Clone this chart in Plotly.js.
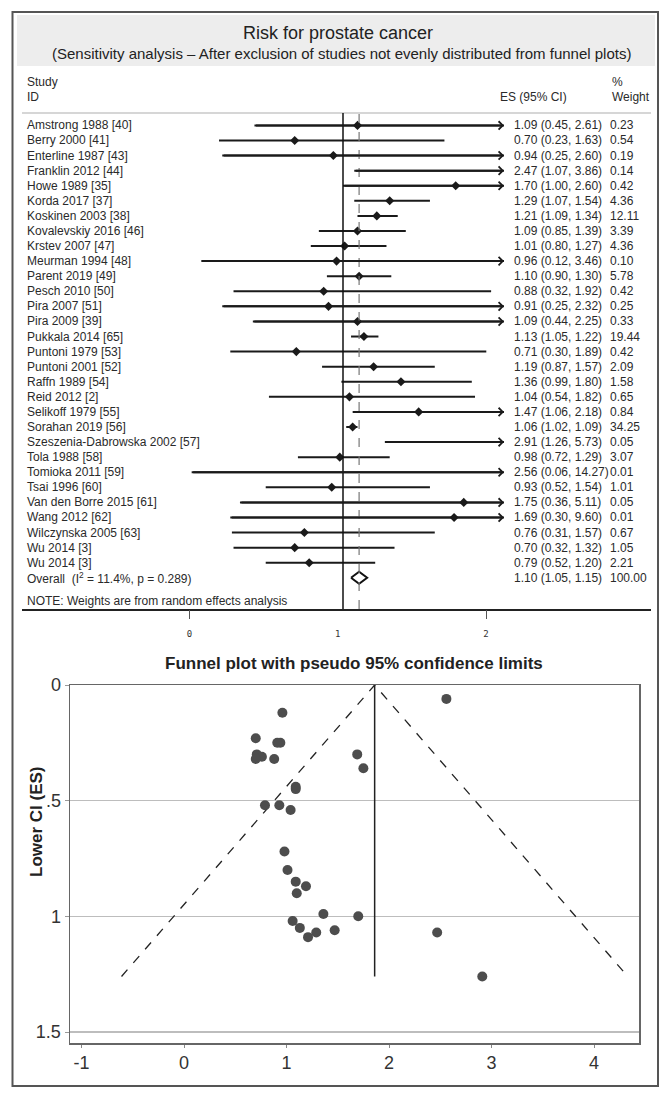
<!DOCTYPE html>
<html>
<head>
<meta charset="utf-8">
<script src="https://cdn.plot.ly/plotly-3.0.1.min.js"></script>
<style>html,body{margin:0;padding:0;background:#fff;}#chart{width:671px;height:1100px;}</style>
</head>
<body>
<div id="chart"></div>
<script>
// ---------------- DATA ----------------
const studies = ["Amstrong 1988 [40]", "Berry 2000 [41]", "Enterline 1987 [43]", "Franklin 2012 [44]",
  "Howe 1989 [35]", "Korda 2017 [37]", "Koskinen 2003 [38]", "Kovalevskiy 2016 [46]", "Krstev 2007 [47]",
  "Meurman 1994 [48]", "Parent 2019 [49]", "Pesch 2010 [50]", "Pira 2007 [51]", "Pira 2009 [39]",
  "Pukkala 2014 [65]", "Puntoni 1979 [53]", "Puntoni 2001 [52]", "Raffn 1989 [54]", "Reid 2012 [2]",
  "Selikoff 1979 [55]", "Sorahan 2019 [56]", "Szeszenia-Dabrowska 2002 [57]", "Tola 1988 [58]",
  "Tomioka 2011 [59]", "Tsai 1996 [60]", "Van den Borre 2015 [61]", "Wang 2012 [62]",
  "Wilczynska 2005 [63]", "Wu 2014 [3]", "Wu 2014 [3]"];
const es    = [1.09,0.70,0.94,2.47,1.70,1.29,1.21,1.09,1.01,0.96,1.10,0.88,0.91,1.09,1.13,0.71,1.19,1.36,1.04,1.47,1.06,2.91,0.98,2.56,0.93,1.75,1.69,0.76,0.70,0.79];
const lower = [0.45,0.23,0.25,1.07,1.00,1.07,1.09,0.85,0.80,0.12,0.90,0.32,0.25,0.44,1.05,0.30,0.87,0.99,0.54,1.06,1.02,1.26,0.72,0.06,0.52,0.36,0.30,0.31,0.32,0.52];
const upper = [2.61,1.63,2.60,3.86,2.60,1.54,1.34,1.39,1.27,3.46,1.30,1.92,2.32,2.25,1.22,1.89,1.57,1.80,1.82,2.18,1.09,5.73,1.29,14.27,1.54,5.11,9.60,1.57,1.32,1.20];
const weights = [0.23,0.54,0.19,0.14,0.42,4.36,12.11,3.39,4.36,0.10,5.78,0.42,0.25,0.33,19.44,0.42,2.09,1.58,0.65,0.84,34.25,0.05,3.07,0.01,1.01,0.05,0.01,0.67,1.05,2.21];
const overallES = 1.10, overallLower = 1.05, overallUpper = 1.15, overallWeight = 100.00;
const i2 = 11.4, pHet = 0.289;
const forestClip = 2;            // forest axis upper display limit (arrows beyond)
const forestTicks = [0, 1, 2];
const funnelCenter = 1.86;       // funnel apex (ES)
const funnelZ = 1.96;            // pseudo 95% limits
const funnelXTicks = [-1, 0, 1, 2, 3, 4];
const funnelXTickText = ["-1", "0", "1", "2", "3", "4"];
const funnelYTicks = [0, 0.5, 1, 1.5];
const funnelYTickText = ["0", ".5", "1", "1.5"];

// ---------------- HELPERS ----------------
const W = 671, H = 1100;
const px = x => x / W;
const py = y => 1 - y / H;
const TXT = '#2a2a2a';
const FONT = 'Liberation Sans, Arial, sans-serif';

const rows = studies.map((_, i) => i);
const overallRow = studies.length;

// ---------------- TRACES ----------------
const ciX = [], ciY = [];
rows.forEach(i => { ciX.push(lower[i], Math.min(upper[i], forestClip), null); ciY.push(i, i, null); });

const shownIdx = rows.filter(i => es[i] <= forestClip);
const dh = 0.4; // diamond half-height (rows)

const funnelYMax = Math.max(...lower);

const traces = [
  {type:'scatter', mode:'lines', x:ciX, y:ciY, xaxis:'x', yaxis:'y',
   line:{color:'#1a1a1a', width:2}, hoverinfo:'skip'},
  {type:'scatter', mode:'markers', x:shownIdx.map(i=>es[i]), y:shownIdx, xaxis:'x', yaxis:'y',
   marker:{symbol:'diamond', size:7, color:'#1a1a1a'}, hoverinfo:'skip'},
  {type:'scatter', mode:'lines',
   x:[overallLower, overallES, overallUpper, overallES, overallLower],
   y:[overallRow, overallRow-dh, overallRow, overallRow+dh, overallRow], xaxis:'x', yaxis:'y',
   line:{color:'#111', width:2}, hoverinfo:'skip'},
  {type:'scatter', mode:'markers', x:[], y:[], xaxis:'x3', yaxis:'y', hoverinfo:'skip'},
  {type:'scatter', mode:'markers', x:[], y:[], xaxis:'x4', yaxis:'y', hoverinfo:'skip'},
  // funnel
  {type:'scatter', mode:'lines',
   x:[funnelCenter - funnelZ*funnelYMax, funnelCenter, funnelCenter + funnelZ*funnelYMax],
   y:[funnelYMax, 0, funnelYMax], xaxis:'x2', yaxis:'y2',
   line:{color:'#222', width:1.3, dash:'dash'}, hoverinfo:'skip'},
  {type:'scatter', mode:'lines', x:[funnelCenter, funnelCenter], y:[0, funnelYMax], xaxis:'x2', yaxis:'y2',
   line:{color:'#222', width:1.5}, hoverinfo:'skip'},
  {type:'scatter', mode:'markers', x:es, y:lower, xaxis:'x2', yaxis:'y2',
   marker:{size:10, color:'#4d4d4d'}, hoverinfo:'skip'}
];

// ---------------- ANNOTATIONS ----------------
const ann = [];
function txt(x, y, text, opts) {
  ann.push(Object.assign({xref:'paper', yref:'paper', x:x, y:y, text:text, showarrow:false,
    xanchor:'left', yanchor:'middle', borderpad:0, borderwidth:0,
    font:{family:FONT, size:12, color:TXT}}, opts || {}));
}
// header
txt(px(338), py(33), 'Risk for prostate cancer', {xanchor:'center', font:{family:FONT, size:18, color:'#222'}});
txt(px(341), py(54), '(Sensitivity analysis \u2013 After exclusion of studies not evenly distributed from funnel plots)',
    {xanchor:'center', font:{family:FONT, size:15, color:'#222'}});
txt(px(27), py(82), 'Study');
txt(px(27), py(97), 'ID');
txt(px(500), py(97), 'ES (95% CI)');
txt(px(612), py(82), '%');
txt(px(612), py(97), 'Weight');

rows.forEach(i => {
  txt(px(27), i, studies[i], {yref:'y'});
  txt(px(514), i, es[i].toFixed(2) + ' (' + lower[i].toFixed(2) + ', ' + upper[i].toFixed(2) + ')', {yref:'y'});
  txt(px(610), i, weights[i].toFixed(2), {yref:'y'});
});
txt(px(27), overallRow, 'Overall  (I<sup>2</sup> = ' + i2.toFixed(1) + '%, p = ' + pHet.toFixed(3) + ')', {yref:'y'});
txt(px(514), overallRow, overallES.toFixed(2) + ' (' + overallLower.toFixed(2) + ', ' + overallUpper.toFixed(2) + ')', {yref:'y'});
txt(px(610), overallRow, overallWeight.toFixed(2), {yref:'y'});
txt(px(27), py(601), 'NOTE: Weights are from random effects analysis');

// arrows for CIs beyond display limit
rows.filter(i => upper[i] > forestClip).forEach(i => {
  ann.push({xref:'x', yref:'y', axref:'x', ayref:'y', x:forestClip, y:i, ax:lower[i], ay:i,
    text:'', showarrow:true, arrowhead:4, arrowsize:0.8, arrowwidth:2, arrowcolor:'#1a1a1a', standoff:0});
});

// funnel titles
txt(px(354), py(663), '<b>Funnel plot with pseudo 95% confidence limits</b>',
    {xanchor:'center', font:{family:FONT, size:17, color:'#222'}});
txt(px(36), py(822), '<b>Lower CI (ES)</b>',
    {xanchor:'center', textangle:-90, font:{family:FONT, size:17, color:'#222'}});

// ---------------- SHAPES ----------------
const shapes = [
  {type:'rect', xref:'paper', yref:'paper', x0:px(17), x1:px(655), y0:py(15), y1:py(66),
   fillcolor:'#ededed', line:{width:0}, layer:'below'},
  {type:'rect', xref:'paper', yref:'paper', x0:px(12.5), x1:px(658), y0:py(12), y1:py(1086),
   line:{color:'#555', width:2}},
  {type:'line', xref:'paper', yref:'paper', x0:px(22), x1:px(651), y0:py(113), y1:py(113),
   line:{color:'#c8c8c8', width:1.5}},
  {type:'line', xref:'x', yref:'y domain', x0:1, x1:1, y0:0, y1:1, line:{color:'#111', width:1.5}},
  {type:'line', xref:'x', yref:'y domain', x0:overallES, x1:overallES, y0:0, y1:1,
   line:{color:'#777', width:1.2, dash:'dash'}}
];

// ---------------- LAYOUT ----------------
const fRange = [(22-182)/161, (651-182)/161];
const tRange = [(22-189.5)/148.25, (651-189.5)/148.25];
const layout = {
  width:W, height:H, margin:{l:0, r:0, t:0, b:0}, paper_bgcolor:'#fff', plot_bgcolor:'rgba(0,0,0,0)',
  showlegend:false, font:{family:FONT, color:TXT},
  xaxis:{domain:[px(22), px(651)], range:fRange, anchor:'y', showgrid:false, zeroline:false,
    showline:true, linecolor:'#222', linewidth:1.5, showticklabels:false, ticks:'', fixedrange:true},
  yaxis:{domain:[py(609), py(113)], range:[(609-125.4)/15.08, (113-125.4)/15.08], anchor:'x',
    visible:false, fixedrange:true},
  xaxis3:{overlaying:'x', anchor:'y', range:tRange, tickvals:forestTicks, ticks:'', showline:false,
    showgrid:false, zeroline:false, ticklabelstandoff:18,
    tickfont:{family:'DejaVu Sans Mono, monospace', size:9, color:'#333'}},
  xaxis4:{overlaying:'x', anchor:'y', range:tRange, tickvals:forestTicks.filter(v => v !== 1), ticks:'outside',
    ticklen:9, tickwidth:1, tickcolor:'#555', showticklabels:false, showline:false, showgrid:false, zeroline:false},
  xaxis2:{domain:[px(70), px(639)], anchor:'y2', range:[(70-184)/102.5, (639-184)/102.5],
    tickvals:funnelXTicks, ticktext:funnelXTickText, ticks:'outside', ticklen:3, tickcolor:'#888',
    showgrid:false, zeroline:false, showline:true, mirror:true, linecolor:'#666', linewidth:1.5,
    tickfont:{family:FONT, size:18, color:'#333'}},
  yaxis2:{domain:[py(1043), py(685)], anchor:'x2', range:[1.5 + 11/231.3, 0],
    tickvals:funnelYTicks, ticktext:funnelYTickText, ticks:'outside', ticklen:4, tickcolor:'#999',
    showgrid:true, gridcolor:'#bdbdbd', gridwidth:1.5, zeroline:false,
    showline:true, mirror:true, linecolor:'#666', linewidth:1.5,
    tickfont:{family:FONT, size:18, color:'#333'}},
  annotations:ann, shapes:shapes
};

Plotly.newPlot('chart', traces, layout, {staticPlot:true, displayModeBar:false});
</script>
</body>
</html>
